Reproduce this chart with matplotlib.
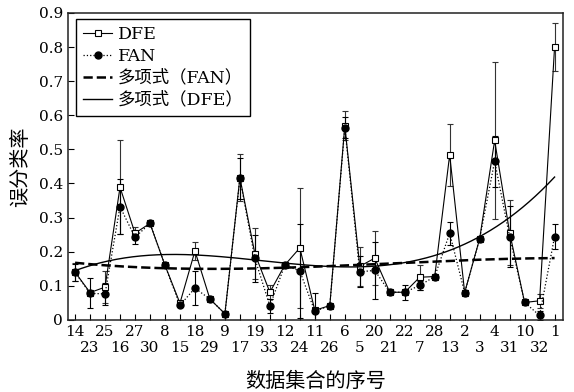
import numpy as np
import matplotlib
matplotlib.use("Agg")
import matplotlib.pyplot as plt

plt.rcParams['font.family'] = ['DejaVu Serif', 'Noto Sans CJK SC']

# 数据集序号 (横轴顺序)
labels = ['14', '23', '25', '16', '27', '30', '8', '15', '18', '29', '9',
          '17', '19', '33', '12', '24', '11', '26', '6', '5', '20', '21',
          '22', '7', '28', '13', '2', '3', '4', '31', '10', '32', '1']

# DFE 误分类率及标准差
dfe = [0.140, 0.080, 0.096, 0.389, 0.254, 0.283, 0.160, 0.049, 0.202, 0.061, 0.018,
       0.417, 0.194, 0.081, 0.161, 0.211, 0.028, 0.042, 0.569, 0.157, 0.181, 0.081,
       0.081, 0.125, 0.127, 0.484, 0.080, 0.238, 0.526, 0.256, 0.051, 0.056, 0.800]
dfe_err = [0.026, 0, 0.046, 0.137, 0.018, 0, 0, 0, 0.025, 0, 0,
           0.069, 0.075, 0.020, 0, 0.175, 0, 0, 0.042, 0.058, 0.080, 0,
           0, 0.036, 0, 0.090, 0, 0, 0.230, 0.095, 0, 0.020, 0.070]

# FAN 误分类率及标准差
fan = [0.139, 0.078, 0.076, 0.332, 0.242, 0.283, 0.160, 0.043, 0.093, 0.061, 0.018,
       0.415, 0.180, 0.041, 0.161, 0.143, 0.025, 0.042, 0.564, 0.141, 0.145, 0.081,
       0.081, 0.101, 0.127, 0.254, 0.080, 0.238, 0.465, 0.244, 0.051, 0.013, 0.244]
fan_err = [0.026, 0.044, 0.032, 0.080, 0.020, 0, 0, 0, 0.049, 0, 0,
           0.060, 0.070, 0.020, 0, 0.138, 0.055, 0, 0.030, 0.045, 0.083, 0,
           0.022, 0.012, 0, 0.034, 0.008, 0, 0.075, 0.090, 0, 0.012, 0.036]

x = np.arange(1, len(labels) + 1)
dfe = np.array(dfe); dfe_err = np.array(dfe_err)
fan = np.array(fan); fan_err = np.array(fan_err)

fig, ax = plt.subplots(figsize=(5.74, 3.92), dpi=100)
fig.subplots_adjust(left=0.1185, right=0.980, top=0.967, bottom=0.184)

# 误差棒 (只画非零的)
m = dfe_err > 0
ax.errorbar(x[m], dfe[m], yerr=dfe_err[m], fmt='none', ecolor='#333333',
            elinewidth=0.8, capsize=2, capthick=0.8, zorder=2)
m = fan_err > 0
ax.errorbar(x[m], fan[m], yerr=fan_err[m], fmt='none', ecolor='black',
            elinewidth=0.8, capsize=2, capthick=0.8, zorder=2)

l1, = ax.plot(x, dfe, '-', color='black', lw=0.8, marker='s', ms=5,
              mfc='white', mec='black', mew=0.8, zorder=3)
l2, = ax.plot(x, fan, ':', color='black', lw=0.9, marker='o', ms=5,
              mfc='black', mec='black', zorder=4)

# 三次多项式趋势线
xs = np.linspace(1, 33, 300)
l3, = ax.plot(xs, np.polyval(np.polyfit(x, fan, 3), xs), '--', color='black', lw=1.8, zorder=5)
l4, = ax.plot(xs, np.polyval(np.polyfit(x, dfe, 3), xs), '-', color='black', lw=1.0, zorder=5)

ax.set_xlim(0.53, 33.53)
ax.set_ylim(0, 0.9)
# 横轴标签分两行: 奇数位置在上, 偶数位置在下
ax.set_xticks(x[::2])
ax.set_xticklabels(labels[::2], fontsize=11)
ax.set_xticks(x[1::2], minor=True)
ax.set_xticklabels(labels[1::2], minor=True, fontsize=11)
ax.set_yticks(np.arange(0, 0.91, 0.1))
ax.set_yticklabels(['0'] + ['%.1f' % v for v in np.arange(0.1, 0.91, 0.1)], fontsize=11)
ax.tick_params(which='both', direction='in', length=4, width=0.8, top=False, right=False)
ax.tick_params(axis='x', which='minor', pad=15)
for sp in ax.spines.values():
    sp.set_linewidth(1.1)
    sp.set_color('#222222')

ax.set_xlabel('数据集合的序号', fontsize=14.5, labelpad=12)
ax.set_ylabel('误分类率', fontsize=14.5, labelpad=6)

leg = ax.legend([l1, l2, l3, l4], ['DFE', 'FAN', '多项式（FAN）', '多项式（DFE）'],
                loc='upper left', bbox_to_anchor=(0.016, 0.98), borderaxespad=0,
                fontsize=12.5, handlelength=1.7, handletextpad=0.3,
                labelspacing=0.28, borderpad=0.4, fancybox=False, framealpha=1,
                edgecolor='black')
leg.get_frame().set_linewidth(1.0)

fig.savefig('out.png', dpi=100)
